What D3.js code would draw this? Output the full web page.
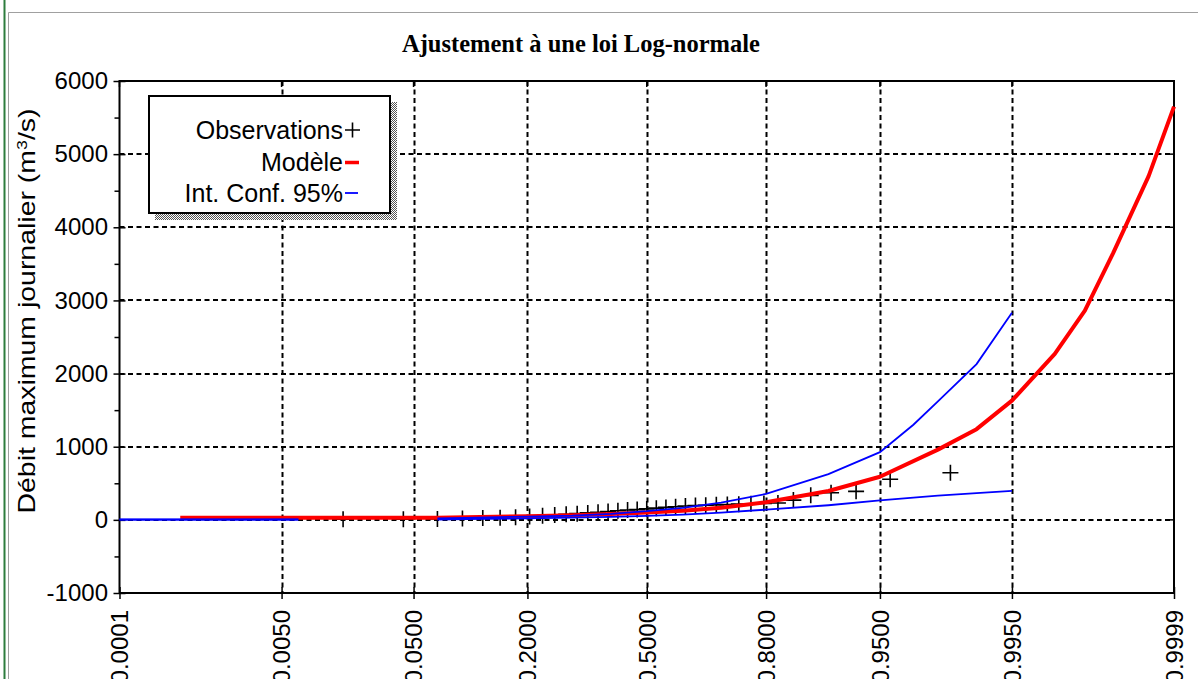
<!DOCTYPE html>
<html>
<head>
<meta charset="utf-8">
<script src="https://cdn.jsdelivr.net/npm/d3@7"></script>
<style>
  body { margin: 0; background: #fff; }
  text { font-family: "Liberation Sans", Arial, sans-serif; fill: #000; }
</style>
</head>
<body>
<svg id="chart" width="1198" height="679"></svg>
<script>
// x axis probabilities (non-exceedance) and y ticks
var xTickProbs = [0.0001, 0.005, 0.05, 0.2, 0.5, 0.8, 0.95, 0.995, 0.9999];
var yTicks = [-1000, 0, 1000, 2000, 3000, 4000, 5000, 6000];
var yMinorTicks = [-500, 500, 1500, 2500, 3500, 4500, 5500];

// observed daily maxima (m3/s) with their plotting frequencies
var obsProb = [0.0161, 0.0430, 0.0699, 0.0968, 0.1237, 0.1505, 0.1774, 0.2043, 0.2312, 0.2581,
               0.2849, 0.3118, 0.3387, 0.3656, 0.3925, 0.4194, 0.4462, 0.4731, 0.5000, 0.5269,
               0.5538, 0.5806, 0.6075, 0.6344, 0.6613, 0.6882, 0.7151, 0.7419, 0.7688, 0.7957,
               0.8226, 0.8495, 0.8763, 0.9032, 0.9301, 0.9570, 0.9839];
var obsVal = [8, 10, 12, 20, 25, 30, 35, 45, 55, 65,
              75, 85, 95, 105, 115, 125, 135, 140, 150, 160,
              170, 180, 190, 195, 200, 205, 210, 215, 220, 225,
              230, 270, 335, 370, 390, 555, 645];

// fitted log-normal model (red)
var modelProb = [0.0005, 0.07, 0.1, 0.2, 0.3, 0.4, 0.5, 0.6, 0.7, 0.8, 0.9, 0.95, 0.98, 0.99,
                 0.995, 0.998, 0.999, 0.9995, 0.9998, 0.9999];
var modelVal = [30, 30, 35, 50, 62, 80, 100, 125, 165, 240, 395, 590, 960, 1240,
                1630, 2270, 2860, 3650, 4700, 5650];

// 95% confidence interval (blue), null = gap
var ciProb = [0.0001, 0.007, 0.03, 0.07, 0.1, 0.2, 0.3, 0.4, 0.5, 0.6, 0.7, 0.8, 0.9, 0.95, 0.97, 0.98, 0.99, 0.995];
var ciLower = [2, 2, null, 5, 12, 20, 30, 40, 55, 72, 98, 140, 200, 265, 305, 330, 365, 395];
var ciUpper = [5, 5, null, 20, 28, 45, 58, 82, 118, 165, 235, 355, 625, 925, 1300, 1620, 2130, 2830];

var legendLabels = ["Observations", "Modèle", "Int. Conf. 95%"];

// inverse of the standard normal cdf (Acklam)
function probit(p) {
  var a = [-3.969683028665376e+01, 2.209460984245205e+02, -2.759285104469687e+02, 1.383577518672690e+02, -3.066479806614716e+01, 2.506628277459239e+00];
  var b = [-5.447609879822406e+01, 1.615858368580409e+02, -1.556989798598866e+02, 6.680131188771972e+01, -1.328068155288572e+01];
  var c = [-7.784894002430293e-03, -3.223964580411365e-01, -2.400758277161838e+00, -2.549732539343734e+00, 4.374664141464968e+00, 2.938163982698783e+00];
  var d = [7.784695709041462e-03, 3.224671290700398e-01, 2.445134137142996e+00, 3.754408661907416e+00];
  var q, r;
  if (p < 0.02425) {
    q = Math.sqrt(-2 * Math.log(p));
    return (((((c[0]*q+c[1])*q+c[2])*q+c[3])*q+c[4])*q+c[5]) / ((((d[0]*q+d[1])*q+d[2])*q+d[3])*q+1);
  } else if (p > 1 - 0.02425) {
    q = Math.sqrt(-2 * Math.log(1 - p));
    return -(((((c[0]*q+c[1])*q+c[2])*q+c[3])*q+c[4])*q+c[5]) / ((((d[0]*q+d[1])*q+d[2])*q+d[3])*q+1);
  }
  q = p - 0.5; r = q * q;
  return (((((a[0]*r+a[1])*r+a[2])*r+a[3])*r+a[4])*r+a[5])*q / (((((b[0]*r+b[1])*r+b[2])*r+b[3])*r+b[4])*r+1);
}

var svg = d3.select("#chart");
var plotLeft = 119.5, plotRight = 1174, plotTop = 81, plotBottom = 593;

var xz = d3.scaleLinear().domain([probit(0.0001), probit(0.9999)]).range([plotLeft, plotRight]);
var x = function(p) { return xz(probit(p)); };
var y = d3.scaleLinear().domain([-1000, 6000]).range([plotBottom, plotTop]);

// window frame
svg.append("line").attr("x1", 4.5).attr("x2", 4.5).attr("y1", 0).attr("y2", 679)
  .attr("stroke", "#2e7d3e").attr("stroke-width", 2);
svg.append("path").attr("d", "M8.5,679V12.5H1198")
  .attr("fill", "none").attr("stroke", "#a0a0a0").attr("stroke-width", 1);

// title
svg.append("text").attr("x", 581).attr("y", 52).attr("text-anchor", "middle")
  .style("font-family", "'Liberation Serif', 'Times New Roman', serif")
  .style("font-weight", "bold").style("font-size", "24.5px")
  .text("Ajustement à une loi Log-normale");

// grid
var grid = svg.append("g").attr("stroke", "#000").attr("stroke-width", 2).attr("stroke-dasharray", "5,3.5");
grid.selectAll(".gx").data(xTickProbs.slice(1, -1)).enter().append("line")
  .attr("x1", function(d) { return Math.round(x(d)) + 0.5; })
  .attr("x2", function(d) { return Math.round(x(d)) + 0.5; })
  .attr("y1", plotTop).attr("y2", plotBottom);
grid.selectAll(".gy").data(yTicks.filter(function(v) { return v > -1000 && v < 6000; })).enter().append("line")
  .attr("x1", plotLeft).attr("x2", plotRight)
  .attr("y1", function(d) { return Math.round(y(d)); })
  .attr("y2", function(d) { return Math.round(y(d)); });

// axes
var yAxis = svg.append("g").attr("transform", "translate(" + plotLeft + ",0)")
  .call(d3.axisLeft(y).tickValues(yTicks).tickSize(6).tickPadding(5.5)
    .tickFormat(function(d) { return String(d); }));
yAxis.select(".domain").remove();
yAxis.selectAll(".tick line").attr("x1", 6).attr("stroke-width", 1.5);
yAxis.selectAll(".tick text").style("font-size", "24px").attr("font-family", null);

var yMinor = svg.append("g").attr("transform", "translate(" + plotLeft + ",0)")
  .call(d3.axisLeft(y).tickValues(yMinorTicks).tickSize(5).tickFormat(""));
yMinor.select(".domain").remove();
yMinor.selectAll(".tick line").attr("stroke-width", 1.5);

// small ticks on the right and top borders
svg.append("g").selectAll("line").data(yTicks).enter().append("line")
  .attr("x1", plotRight - 5).attr("x2", plotRight)
  .attr("y1", function(d) { return y(d); }).attr("y2", function(d) { return y(d); })
  .attr("stroke", "#000").attr("stroke-width", 1.5);
svg.append("g").selectAll("line").data(xTickProbs).enter().append("line")
  .attr("x1", function(d) { return x(d); }).attr("x2", function(d) { return x(d); })
  .attr("y1", plotTop).attr("y2", plotTop + 6)
  .attr("stroke", "#000").attr("stroke-width", 1.5);

var xAxis = svg.append("g").attr("transform", "translate(0," + plotBottom + ")")
  .call(d3.axisBottom(xz).tickValues(xTickProbs.map(probit)).tickSize(6)
    .tickFormat(function(z, i) { return d3.format(".4f")(xTickProbs[i]); }));
xAxis.select(".domain").remove();
xAxis.selectAll(".tick line").attr("y1", -6).attr("stroke-width", 1.5);
xAxis.selectAll(".tick text")
  .attr("font-family", null).style("font-size", "24px")
  .attr("transform", "rotate(-90)")
  .attr("text-anchor", "end")
  .attr("x", -17).attr("y", 0).attr("dy", "0.35em");

// plot frame
svg.append("rect").attr("x", plotLeft).attr("y", plotTop)
  .attr("width", plotRight - plotLeft).attr("height", plotBottom - plotTop)
  .attr("fill", "none").attr("stroke", "#000").attr("stroke-width", 2);

// y title
svg.append("text").attr("transform", "translate(35,311) rotate(-90)")
  .attr("text-anchor", "middle").style("font-size", "24px")
  .attr("textLength", 405).attr("lengthAdjust", "spacingAndGlyphs")
  .call(function(t) {
    t.append("tspan").text("Débit maximum journalier (m");
    t.append("tspan").attr("dy", -8).style("font-size", "15px").text("3");
    t.append("tspan").attr("dy", 8).text("/s)");
  });

// observations
svg.append("g").selectAll("path").data(obsProb).enter().append("path")
  .attr("d", "M-8,0H8M0,-8V8")
  .attr("transform", function(d, i) { return "translate(" + x(d) + "," + y(obsVal[i]) + ")"; })
  .attr("stroke", "#000").attr("stroke-width", 1.6).attr("fill", "none");

// model line
var line = d3.line()
  .defined(function(d) { return d[1] != null; })
  .x(function(d) { return x(d[0]); })
  .y(function(d) { return y(d[1]); });

svg.append("path").datum(d3.zip(modelProb, modelVal))
  .attr("d", line).attr("fill", "none").attr("stroke", "#ff0000").attr("stroke-width", 4)
  .attr("stroke-linejoin", "round");

[ciLower, ciUpper].forEach(function(vals) {
  svg.append("path").datum(d3.zip(ciProb, vals))
    .attr("d", line).attr("fill", "none").attr("stroke", "#0000ff").attr("stroke-width", 1.8);
});

// legend
var defs = svg.append("defs");
var pat = defs.append("pattern").attr("id", "hatch").attr("width", 2).attr("height", 2)
  .attr("patternUnits", "userSpaceOnUse");
pat.append("rect").attr("width", 2).attr("height", 2).attr("fill", "#fff");
pat.append("rect").attr("width", 1).attr("height", 1).attr("fill", "#555");
pat.append("rect").attr("x", 1).attr("y", 1).attr("width", 1).attr("height", 1).attr("fill", "#555");

svg.append("rect").attr("x", 155).attr("y", 102).attr("width", 242).attr("height", 118).attr("fill", "url(#hatch)");
svg.append("rect").attr("x", 149).attr("y", 96).attr("width", 241).attr("height", 117)
  .attr("fill", "#fff").attr("stroke", "#000").attr("stroke-width", 2);

var leg = svg.append("g").selectAll("g").data(legendLabels).enter().append("g")
  .attr("transform", function(d, i) { return "translate(0," + (139 + i * 31.5) + ")"; });
leg.append("text").attr("x", 343).attr("text-anchor", "end").style("font-size", "25px")
  .text(function(d) { return d; });
leg.each(function(d, i) {
  var g = d3.select(this);
  if (i === 0) {
    g.append("path").attr("d", "M345,-9H360M352.5,-16.5V-1.5").attr("stroke", "#000").attr("stroke-width", 1.6);
  } else if (i === 1) {
    g.append("line").attr("x1", 345).attr("x2", 359).attr("y1", -8).attr("y2", -8)
      .attr("stroke", "#ff0000").attr("stroke-width", 3.5);
  } else {
    g.append("line").attr("x1", 345).attr("x2", 358).attr("y1", -9).attr("y2", -9)
      .attr("stroke", "#0000ff").attr("stroke-width", 1.8);
  }
});
</script>
</body>
</html>
